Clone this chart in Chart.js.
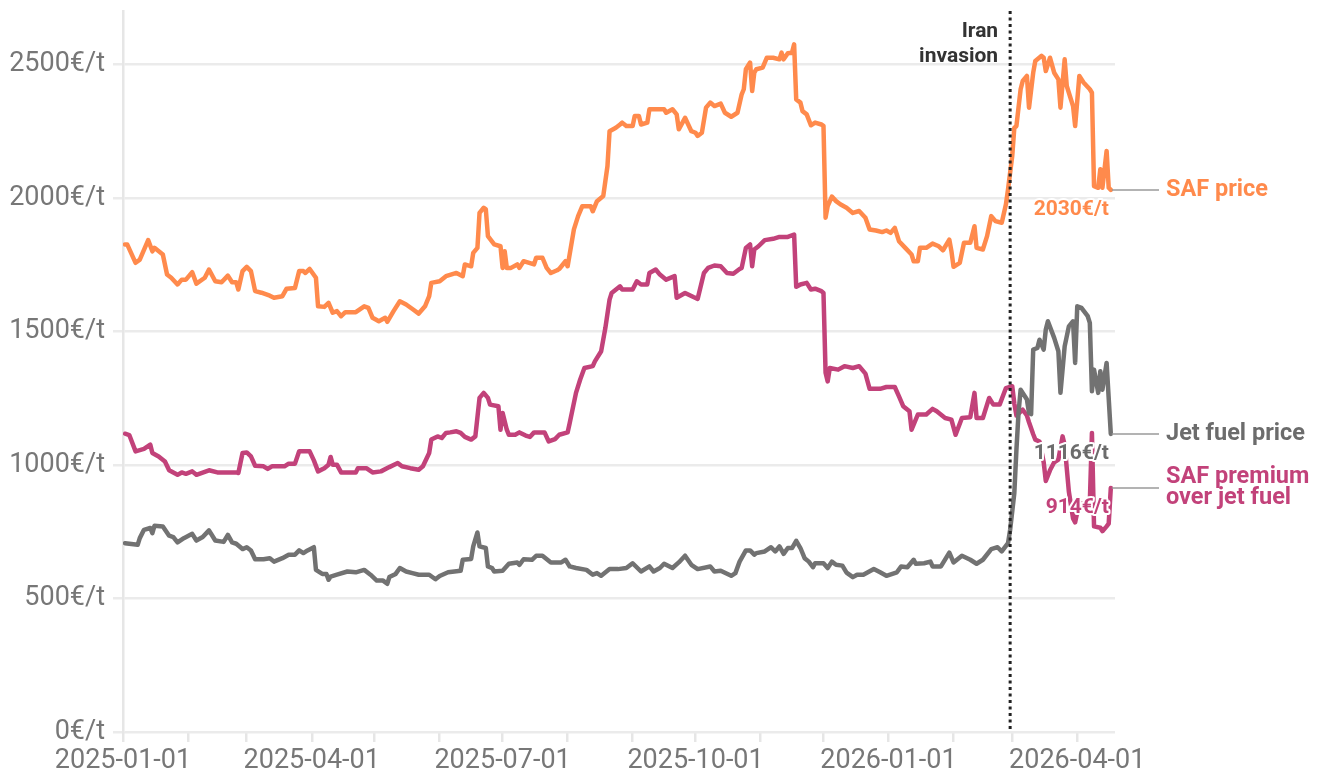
<!DOCTYPE html>
<html>
<head>
<meta charset="utf-8">
<script src="https://cdn.jsdelivr.net/npm/chart.js@4.4.1/dist/chart.umd.min.js"></script>
<style>
	html, body { margin: 0; padding: 0; background: #fff; }
	#wrap { width: 1325px; height: 773px; }
</style>
</head>
<body>
<div id="wrap"><canvas id="priceChart" width="1325" height="773"></canvas></div>
<script>
// days since 2025-01-01
var safDays = [1,2,6,8,12,14,15,19,21,23,26,28,30,33,35,39,41,44,47,50,52,54,55,57,59,61,63,66,70,72,76,78,82,84,86,87,89,92,93,96,98,100,102,104,106,111,115,117,119,122,125,126,129,132,135,138,141,144,146,147,151,154,159,162,163,166,167,169,170,172,173,174,177,180,181,182,183,185,188,189,191,196,197,200,202,204,207,208,211,212,215,217,219,223,224,226,229,231,232,235,237,238,240,243,244,246,247,250,251,253,258,259,262,264,265,268,271,273,274,276,278,280,282,285,287,290,293,295,296,297,299,300,301,302,305,307,310,313,314,315,317,319,320,321,323,324,326,328,330,333,334,335,336,338,340,342,345,348,351,354,356,359,362,364,366,368,370,373,376,377,379,380,383,386,389,391,394,395,396,399,401,404,406,407,410,412,414,416,419,421,422,424,425,426,428,429,431,432,434,435,438,439,440,442,444,446,447,449,450,453,454,456,458,461,462,463,465,466,467,469,470,471];
var safPrice = [1826,1826,1757,1769,1842,1800,1813,1788,1713,1701,1676,1694,1694,1722,1679,1701,1732,1688,1684,1709,1684,1684,1657,1726,1742,1726,1651,1645,1634,1626,1632,1660,1663,1726,1726,1719,1734,1701,1594,1592,1607,1570,1576,1557,1572,1572,1594,1588,1551,1538,1551,1536,1576,1613,1601,1584,1567,1594,1632,1682,1688,1707,1719,1707,1751,1744,1794,1813,1944,1963,1957,1857,1826,1819,1738,1800,1738,1738,1751,1738,1763,1751,1776,1776,1738,1719,1729,1734,1763,1744,1882,1932,1969,1969,1950,1988,2007,2119,2250,2263,2275,2282,2269,2269,2307,2307,2275,2282,2332,2332,2332,2319,2332,2313,2257,2300,2250,2244,2232,2244,2338,2357,2344,2353,2319,2304,2319,2388,2407,2482,2507,2400,2469,2482,2488,2525,2525,2519,2544,2519,2542,2544,2575,2369,2357,2325,2313,2272,2282,2275,2270,1926,1969,2005,1988,1976,1963,1944,1951,1926,1882,1878,1872,1878,1869,1888,1838,1813,1788,1763,1763,1813,1813,1829,1819,1804,1844,1801,1742,1757,1832,1832,1894,1813,1807,1857,1932,1913,1907,1976,2032,2157,2263,2269,2407,2438,2457,2338,2469,2513,2532,2525,2475,2525,2469,2444,2338,2519,2419,2344,2269,2457,2432,2407,2394,2044,2038,2107,2038,2176,2038,2030];

var jetDays = [1,7,8,10,13,14,15,19,22,24,26,29,33,35,38,41,44,48,50,52,54,57,59,61,63,67,70,72,76,79,82,84,86,88,91,92,95,97,98,99,102,107,111,115,118,121,124,126,127,130,132,135,138,141,146,149,151,155,161,162,166,167,169,170,173,174,176,177,181,184,188,189,191,195,197,200,204,209,211,213,216,221,224,226,228,232,236,240,243,247,251,253,256,258,262,265,268,271,274,280,282,285,290,292,294,297,299,301,302,306,309,311,313,315,317,319,321,323,325,327,329,330,334,336,338,340,343,345,348,350,353,358,361,364,369,371,374,377,378,382,385,386,390,394,396,400,404,407,410,414,417,419,422,423,425,426,427,428,429,431,432,433,434,436,437,439,440,441,444,446,447,449,451,453,454,455,457,460,461,462,463,465,466,467,469,471];
var jetPrice = [707,701,726,757,764,745,772,770,735,730,710,726,742,717,730,755,717,712,738,710,705,685,692,680,647,647,651,638,651,664,664,680,670,680,692,607,592,592,570,582,589,601,598,607,589,567,567,555,580,592,614,601,595,589,589,572,584,598,604,645,648,695,747,695,689,620,614,601,604,630,635,626,647,645,660,660,635,635,645,620,614,607,589,595,585,610,610,614,632,601,620,601,614,630,614,635,660,626,610,620,601,604,585,595,638,680,680,664,670,676,692,676,695,667,689,689,716,689,651,638,617,632,632,614,638,626,623,597,580,589,589,610,598,585,598,620,617,645,630,632,638,620,620,672,635,660,645,630,645,685,692,676,707,757,895,1057,1195,1282,1270,1245,1195,1190,1432,1438,1469,1432,1507,1538,1476,1426,1270,1444,1519,1538,1382,1594,1588,1557,1532,1276,1357,1270,1351,1282,1382,1116];

var premDays = [1,3,6,10,13,14,17,20,22,26,28,30,33,35,41,45,54,55,57,59,61,63,67,69,71,77,79,82,84,89,91,93,96,98,99,100,102,104,111,112,116,119,123,127,131,133,137,141,143,146,147,150,152,154,156,159,161,163,166,168,170,172,174,175,179,180,181,183,184,187,189,192,194,196,201,203,206,208,212,213,216,218,220,224,225,228,230,232,233,237,238,243,245,247,250,251,254,256,259,263,264,268,272,274,277,279,282,285,288,291,294,295,297,299,300,301,303,306,310,313,317,320,321,323,326,328,330,333,334,335,336,337,341,344,348,351,354,356,361,364,368,370,372,375,376,379,383,386,388,392,395,397,400,404,406,407,410,413,415,418,421,424,425,426,428,429,431,432,434,435,437,439,440,442,444,446,448,449,451,453,454,456,458,461,462,463,466,467,469,470,471];
var premium = [1117,1112,1051,1060,1076,1045,1032,1013,980,963,972,967,976,963,980,972,972,970,1045,1047,1032,997,995,985,995,995,1005,1005,1051,1051,1017,976,988,1001,1030,1001,1001,972,972,988,988,972,976,992,1007,995,988,982,995,1045,1095,1107,1101,1120,1122,1126,1120,1105,1095,1107,1251,1270,1251,1226,1220,1132,1195,1132,1113,1113,1122,1110,1105,1122,1122,1088,1097,1113,1122,1157,1270,1320,1363,1370,1388,1426,1513,1619,1644,1669,1657,1657,1688,1676,1676,1719,1732,1713,1694,1707,1626,1644,1629,1622,1719,1738,1747,1744,1719,1716,1734,1738,1813,1826,1744,1807,1819,1842,1847,1854,1854,1863,1667,1676,1682,1657,1660,1651,1644,1345,1313,1363,1357,1370,1363,1370,1342,1285,1285,1292,1292,1257,1220,1201,1132,1189,1189,1210,1201,1176,1170,1113,1176,1179,1270,1176,1176,1251,1226,1226,1288,1295,1230,1185,1200,1207,1185,1160,1115,1095,1088,1010,940,980,1010,1020,1107,1075,900,800,785,860,850,860,1120,770,765,752,770,780,914];

// x axis: month starts, labelled every quarter
var monthStarts = [0,31,59,90,120,151,181,212,243,273,304,334,365,396,424,455];
var monthLabels = ['2025-01-01','','','2025-04-01','','','2025-07-01','','','2025-10-01','','','2026-01-01','','','2026-04-01'];
var yTicks = [0,500,1000,1500,2000,2500];

var invasionDay = 423; // 2026-02-28

var ORANGE = '#ff8a4c';
var MAGENTA = '#c2427a';
var GREY = '#727272';

function toPoints(days, vals) {
	return days.map(function(d, i) { return { x: d, y: vals[i] }; });
}

var seriesLabels = [
	{ lines: ['SAF price'], color: ORANGE, ds: 0 },
	{ lines: ['Jet fuel price'], color: '#6c6c6c', ds: 1 },
	{ lines: ['SAF premium', 'over jet fuel'], color: MAGENTA, ds: 2 }
];

var overlayPlugin = {
	id: 'overlay',
	afterDatasetsDraw: function(chart) {
		var ctx = chart.ctx;
		var xs = chart.scales.x, ys = chart.scales.y;
		var area = chart.chartArea;
		ctx.save();

		// invasion marker
		var ix = xs.getPixelForValue(invasionDay);
		ctx.strokeStyle = '#222';
		ctx.lineWidth = 3;
		ctx.setLineDash([3, 3.5]);
		ctx.beginPath();
		ctx.moveTo(ix, area.top);
		ctx.lineTo(ix, area.bottom - 3);
		ctx.stroke();
		ctx.setLineDash([]);
		ctx.font = 'bold 21px Roboto';
		ctx.fillStyle = '#333';
		ctx.textAlign = 'right';
		ctx.textBaseline = 'middle';
		ctx.fillText('Iran', ix - 12, area.top + 21);
		ctx.fillText('invasion', ix - 12, area.top + 46);

		// end labels
		for (var i = 0; i < seriesLabels.length; i++) {
			var s = seriesLabels[i];
			var data = chart.data.datasets[s.ds].data;
			var last = data[data.length - 1];
			var ex = xs.getPixelForValue(last.x);
			var ey = ys.getPixelForValue(last.y);

			ctx.strokeStyle = '#9a9a9a';
			ctx.lineWidth = 1.5;
			ctx.beginPath();
			ctx.moveTo(ex + 1, ey);
			ctx.lineTo(area.right + 44, ey);
			ctx.stroke();

			ctx.font = 'bold 23.5px Roboto';
			ctx.fillStyle = s.color;
			ctx.textAlign = 'left';
			if (s.lines.length == 1) {
				ctx.fillText(s.lines[0], area.right + 51, ey);
			} else {
				ctx.fillText(s.lines[0], area.right + 51, ey - 11);
				ctx.fillText(s.lines[1], area.right + 51, ey + 10);
			}

			ctx.font = 'bold 21px Roboto';
			ctx.textAlign = 'right';
			ctx.lineWidth = 4;
			ctx.lineJoin = 'round';
			ctx.strokeStyle = '#fff';
			var txt = last.y + '€/t';
			ctx.strokeText(txt, ex - 2, ey + 20);
			ctx.fillStyle = s.color;
			ctx.fillText(txt, ex - 2, ey + 20);
		}
		ctx.restore();
	}
};

Chart.defaults.font.family = 'Roboto, sans-serif';

var ctx = document.getElementById('priceChart').getContext('2d');
new Chart(ctx, {
	type: 'line',
	data: {
		datasets: [
			{ label: 'SAF price', data: toPoints(safDays, safPrice), borderColor: ORANGE },
			{ label: 'Jet fuel price', data: toPoints(jetDays, jetPrice), borderColor: GREY },
			{ label: 'SAF premium over jet fuel', data: toPoints(premDays, premium), borderColor: MAGENTA }
		]
	},
	options: {
		responsive: false,
		animation: false,
		parsing: false,
		layout: { padding: { top: 11, right: 210, bottom: 0, left: 0 } },
		elements: {
			point: { radius: 0 },
			line: { borderWidth: 4.5, tension: 0, fill: false, borderJoinStyle: 'round', borderCapStyle: 'round' }
		},
		plugins: {
			legend: { display: false },
			tooltip: { enabled: false }
		},
		scales: {
			x: {
				type: 'linear',
				min: 0,
				max: 473,
				afterBuildTicks: function(scale) {
					scale.ticks = monthStarts.map(function(v) { return { value: v }; });
				},
				afterFit: function(scale) { scale.height = 41; },
				ticks: {
					autoSkip: false,
					maxRotation: 0,
					padding: 3,
					color: '#777',
					font: { size: 27 },
					callback: function(value, index) { return monthLabels[index]; }
				},
				grid: { drawOnChartArea: false, tickLength: 10, color: '#e6e6e6', lineWidth: 2.5 },
				border: { display: false }
			},
			y: {
				min: 0,
				max: 2700,
				afterBuildTicks: function(scale) {
					scale.ticks = yTicks.map(function(v) { return { value: v }; });
				},
				afterFit: function(scale) {
					scale.width = 123;
					scale.paddingTop = 0;
					scale.paddingBottom = 0;
				},
				ticks: {
					padding: 8,
					color: '#777',
					font: { size: 27 },
					callback: function(value) { return value + '€/t'; }
				},
				grid: { color: '#ebebeb', lineWidth: 2.5, tickLength: 10 },
				border: { color: '#e6e6e6', width: 2.5 }
			}
		}
	},
	plugins: [overlayPlugin]
});
</script>
</body>
</html>
